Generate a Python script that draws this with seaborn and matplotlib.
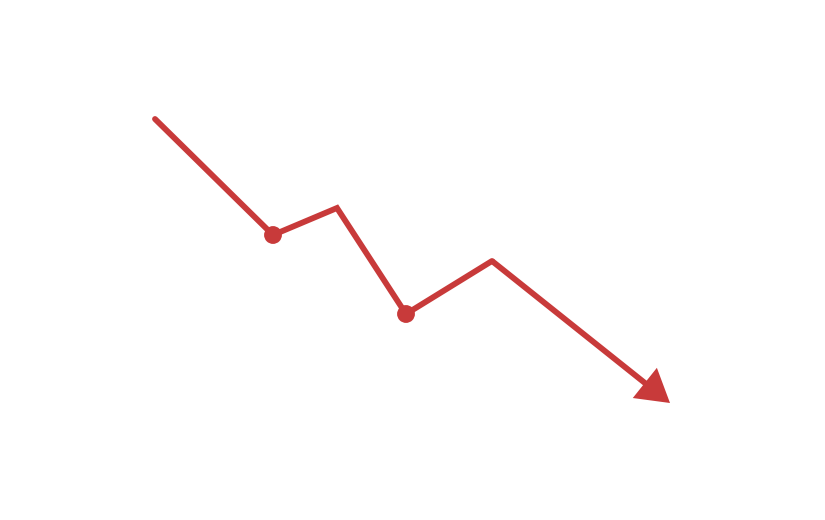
import matplotlib
matplotlib.use("Agg")
import matplotlib.pyplot as plt
import pandas as pd
import seaborn as sns

# Data (trend path)
x_vals = [155, 273, 337, 406, 492]
y_vals = [119, 235, 208, 314, 261]
arrow_tip = (670, 403)
marker_idx = [1, 3]  # points that get a dot

line_color = "#c83a3a"

sns.set_style("white")
fig = plt.figure(figsize=(8.25, 5.2), dpi=100)
ax = fig.add_axes([0, 0, 1, 1])

df = pd.DataFrame({"x": x_vals, "y": y_vals})
sns.lineplot(data=df, x="x", y="y", sort=False, color=line_color,
             linewidth=4.2, ax=ax, solid_joinstyle="miter")

dots = df.iloc[marker_idx]
sns.scatterplot(data=dots, x="x", y="y", color=line_color, s=165,
                edgecolor="none", ax=ax, zorder=3)

# arrow from last point to the tip
ax.annotate("", xy=arrow_tip, xytext=(x_vals[-1], y_vals[-1]),
            arrowprops=dict(arrowstyle="-|>,head_length=1.0,head_width=0.6",
                            color=line_color, lw=4.2, mutation_scale=17,
                            joinstyle="miter", capstyle="butt",
                            shrinkA=0, shrinkB=0))

ax.set_xlim(0, 825)
ax.set_ylim(520, 0)
ax.axis("off")

fig.savefig("out.png", dpi=100)
